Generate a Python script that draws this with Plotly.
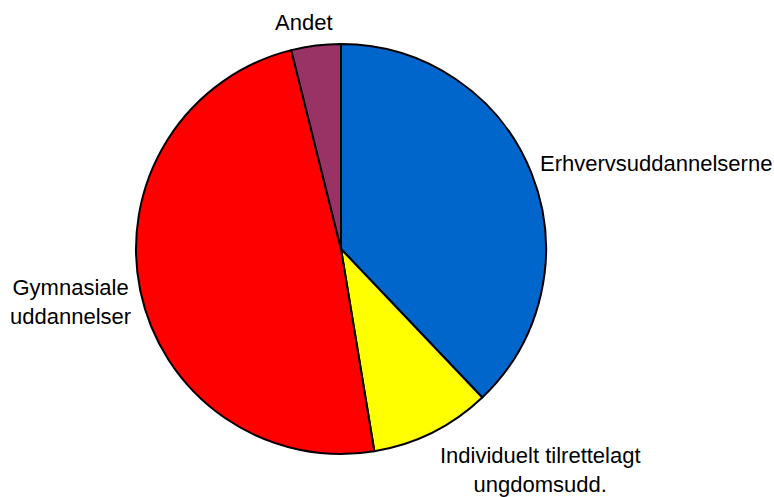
import plotly.graph_objects as go

labels = ["Erhvervsuddannelserne", "Individuelt tilrettelagt<br>ungdomsudd.", "Gymnasiale<br>uddannelser", "Andet"]
values = [37.9, 9.5, 48.7, 3.9]
colors = ["#0066CC", "#FFFF00", "#FF0000", "#993366"]

W, H = 774, 497
# label anchor positions in pixels (x, y, xanchor)
label_pos = [(538, 164, "left"), (540, 470, "center"), (70, 302, "center"), (304, 23, "center")]

fig = go.Figure(go.Pie(
    labels=labels, values=values, sort=False, direction="clockwise", rotation=0,
    marker=dict(colors=colors, line=dict(color="black", width=2)),
    textinfo="none",
    showlegend=False, hoverinfo="label+percent",
))
for lab, (px, py, xa) in zip(labels, label_pos):
    fig.add_annotation(
        text=lab, x=px / W, y=1 - py / H, xref="paper", yref="paper",
        xanchor=xa, yanchor="middle", showarrow=False, align="center",
        font=dict(family="Liberation Sans, Arial", size=22, color="black"),
    )
fig.update_layout(
    width=W, height=H, paper_bgcolor="white", plot_bgcolor="white",
    margin=dict(l=0, r=0, t=0, b=0),
)
# pie domain: center (341, 249), radius 205
fig.update_traces(domain=dict(x=[136 / W, 546 / W], y=[1 - 454 / H, 1 - 44 / H]))
fig.write_html("out.html", config={"displayModeBar": False},
               post_script="document.body.style.margin='0';document.body.style.padding='0';")
